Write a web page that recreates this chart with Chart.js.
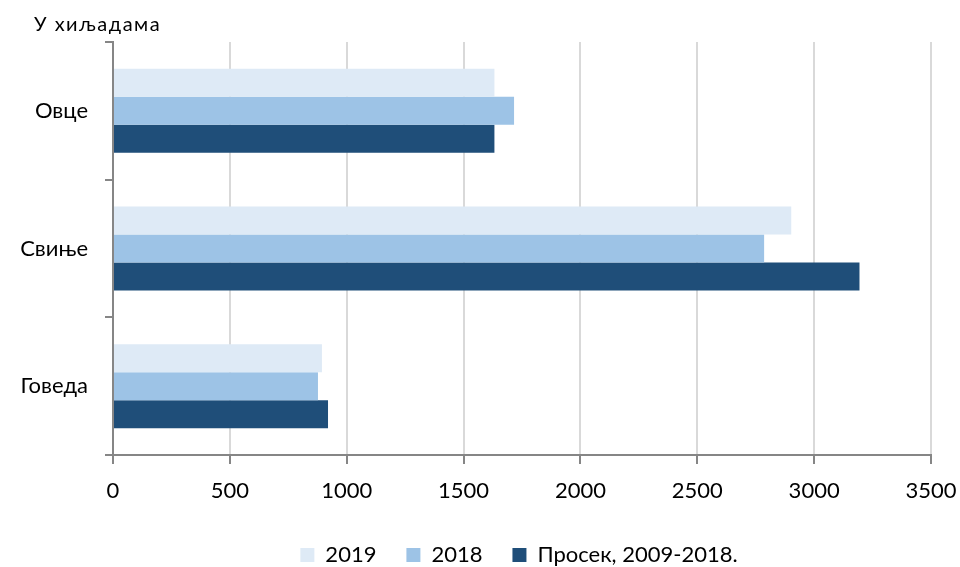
<!DOCTYPE html>
<html>
<head>
<meta charset="utf-8">
<title>Стока</title>
<script src="https://cdn.jsdelivr.net/npm/chart.js@4/dist/chart.umd.min.js"></script>
<style>
  html, body { margin: 0; padding: 0; background: #fff; }
  #wrap { width: 960px; height: 567px; position: relative; }
</style>
</head>
<body>
<div id="wrap"><canvas id="chart"></canvas></div>
<script>
  // categories (top to bottom) and series, in thousands
  const CATEGORIES = ["Овце", "Свиње", "Говеда"];
  const SERIES_NAMES = ["2019", "2018", "Просек, 2009-2018."];
  const VALUES_2019 = [1632, 2902, 894];
  const VALUES_2018 = [1716, 2786, 877];
  const VALUES_AVG = [1632, 3194, 920];
  const X_TICKS = [0, 500, 1000, 1500, 2000, 2500, 3000, 3500];
  const UNIT_LABEL = "У хиљадама";

  const COLORS = ["#deeaf6", "#9dc3e6", "#1f4e79"];
  const FONT = "Lato, 'Open Sans', sans-serif";
  const AXIS_GREY = "#868686";

  // unit label in the top-left corner
  const unitLabel = {
    id: "unitLabel",
    afterDraw(chart) {
      const ctx = chart.ctx;
      ctx.save();
      ctx.font = "20px " + FONT;
      ctx.fillStyle = "#000";
      ctx.textBaseline = "alphabetic";
      if ("letterSpacing" in ctx) ctx.letterSpacing = "1.5px";
      ctx.fillText(UNIT_LABEL, 34, 31);
      ctx.restore();
    },
  };

  // legend sits a bit lower than Chart.js puts it
  const nudgeLegend = {
    id: "nudgeLegend",
    afterLayout(chart) {
      const l = chart.legend;
      l.top += 9; l.bottom += 9;
      l.left -= 3; l.right -= 3;
    },
  };

  new Chart(document.getElementById("chart"), {
    type: "bar",
    data: {
      labels: CATEGORIES,
      datasets: [VALUES_2019, VALUES_2018, VALUES_AVG].map((vals, i) => ({
        label: SERIES_NAMES[i],
        data: vals,
        backgroundColor: COLORS[i],
        borderWidth: 0,
        categoryPercentage: 0.61,
        barPercentage: 1,
      })),
    },
    options: {
      indexAxis: "y",
      responsive: true,
      maintainAspectRatio: false,
      animation: false,
      layout: { padding: { top: 42, right: 29, left: 0, bottom: 0 } },
      plugins: {
        tooltip: { enabled: false },
        legend: {
          position: "bottom",
          fullSize: false,
          labels: { boxWidth: 14, boxHeight: 14, padding: 30, color: "#000", font: { family: FONT, size: 22 } },
        },
      },
      scales: {
        x: {
          min: 0,
          max: 3500,
          afterBuildTicks: (scale) => { scale.ticks = X_TICKS.map((v) => ({ value: v })); },
          afterFit: (scale) => { scale.height = 50; scale.paddingRight = 0; },
          grid: { color: "#d9d9d9", lineWidth: 2, tickColor: AXIS_GREY, tickLength: 9 },
          border: { color: AXIS_GREY, width: 2 },
          ticks: { color: "#000", padding: 14, font: { family: FONT, size: 22 }, callback: (v) => String(v) },
        },
        y: {
          afterFit: (scale) => { scale.width = 113; },
          grid: { drawOnChartArea: false, offset: true, tickColor: AXIS_GREY, tickLength: 8, lineWidth: 2 },
          border: { color: AXIS_GREY, width: 2 },
          ticks: { color: "#000", padding: 17, font: { family: FONT, size: 22 } },
        },
      },
    },
    plugins: [unitLabel, nudgeLegend],
  });
</script>
</body>
</html>
